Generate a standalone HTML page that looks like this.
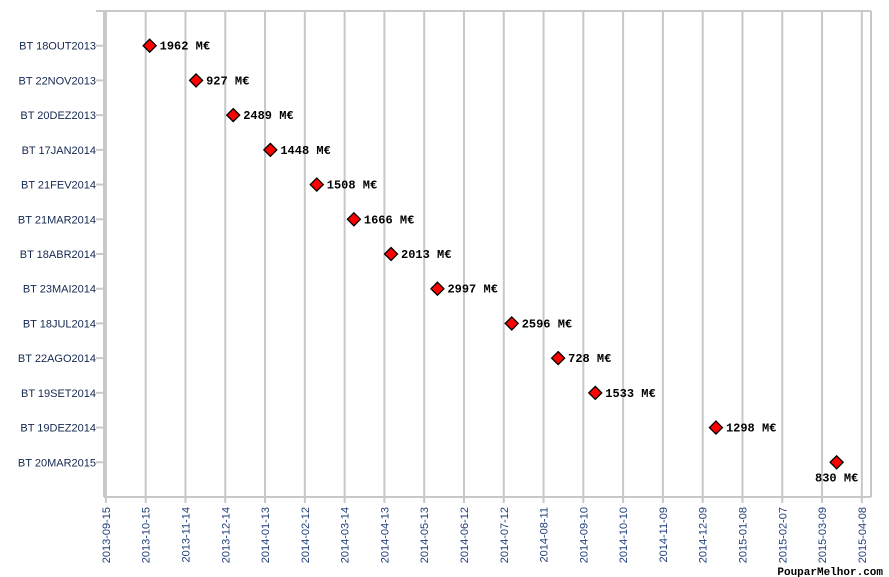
<!DOCTYPE html>
<html><head><meta charset="utf-8"><style>
html,body{margin:0;padding:0;background:#fff;width:889px;height:577px;overflow:hidden}
svg text{font-family:"Liberation Sans",sans-serif}
.v{font-family:"Liberation Mono",monospace;font-weight:bold;font-size:12px;fill:#000}
</style></head><body>
<svg id="chart" width="889" height="577" viewBox="0 0 889 577" xmlns="http://www.w3.org/2000/svg">
<g id="grid"></g>
<g id="yaxis"></g>
<g id="xaxis"></g>
<g id="marks"></g>
<text x="883" y="575" text-anchor="end" class="v" style="font-size:11px">PouparMelhor.com</text>
</svg>
<script>
const categories=["BT 18OUT2013","BT 22NOV2013","BT 20DEZ2013","BT 17JAN2014","BT 21FEV2014","BT 21MAR2014","BT 18ABR2014","BT 23MAI2014","BT 18JUL2014","BT 22AGO2014","BT 19SET2014","BT 19DEZ2014","BT 20MAR2015"];
const dates=["2013-10-18","2013-11-22","2013-12-20","2014-01-17","2014-02-21","2014-03-21","2014-04-18","2014-05-23","2014-07-18","2014-08-22","2014-09-19","2014-12-19","2015-03-20"];
const values=[1962,927,2489,1448,1508,1666,2013,2997,2596,728,1533,1298,830];
const tickLabels=["2013-09-15","2013-10-15","2013-11-14","2013-12-14","2014-01-13","2014-02-12","2014-03-14","2014-04-13","2014-05-13","2014-06-12","2014-07-12","2014-08-11","2014-09-10","2014-10-10","2014-11-09","2014-12-09","2015-01-08","2015-02-07","2015-03-09","2015-04-08"];
const NS="http://www.w3.org/2000/svg";
const L=104,R=871,T=11,B=497;
const t0=Date.UTC(2013,8,15);
function day(s){const p=s.split("-").map(Number);return (Date.UTC(p[0],p[1]-1,p[2])-t0)/864e5;}
function x(s){return 105.9+day(s)*1.3262;}
const step=(B-T)/(categories.length+1);
function y(i){return T+step*(i+1);}
function mk(tag,attrs,parent){const e=document.createElementNS(NS,tag);for(const k in attrs)e.setAttribute(k,attrs[k]);parent.appendChild(e);return e;}
const grid=document.getElementById("grid"),xa=document.getElementById("xaxis"),ya=document.getElementById("yaxis"),marks=document.getElementById("marks");
tickLabels.forEach(d=>{
  const gx=x(d);
  const l=mk("line",{x1:gx,x2:gx,y1:T,y2:B+6,stroke:"#c8c8c8","stroke-width":2},grid);
  
  
  const t=mk("text",{transform:`translate(${gx+4},${B+10}) rotate(-90)`,"text-anchor":"end","font-size":"11px",fill:"#1f3d7a"},xa);
  t.textContent=d;
  
  
});
mk("line",{x1:L,x2:L,y1:T,y2:B,stroke:"#c8c8c8","stroke-width":2},ya);
mk("line",{x1:R,x2:R,y1:T,y2:B,stroke:"#c8c8c8","stroke-width":2},grid);
mk("line",{x1:L-8,x2:R,y1:T,y2:T,stroke:"#c8c8c8","stroke-width":2},grid);
mk("line",{x1:L,x2:R,y1:B,y2:B,stroke:"#c8c8c8","stroke-width":2},xa);
categories.forEach((c,i)=>{
  const cy=y(i);
  mk("line",{x1:L-8,x2:L,y1:cy,y2:cy,stroke:"#c8c8c8","stroke-width":2},ya);
  const t=mk("text",{x:96,y:cy+4,"text-anchor":"end","font-size":"11px",fill:"#142850"},ya);
  t.textContent=c;
  
  
  const cx=x(dates[i]);
  const p=mk("path",{d:`M${cx} ${cy-6.5}L${cx+6.5} ${cy}L${cx} ${cy+6.5}L${cx-6.5} ${cy}Z`,fill:"#ff0000",stroke:"#000","stroke-width":1.3},marks);
  
  
  const last=i===categories.length-1;
  const v=mk("text",last?{x:cx,y:cy+19,"text-anchor":"middle",class:"v"}:{x:cx+10,y:cy+4,class:"v"},marks);
  v.textContent=values[i]+" M€";
  
  
});
</script>
</body></html>
